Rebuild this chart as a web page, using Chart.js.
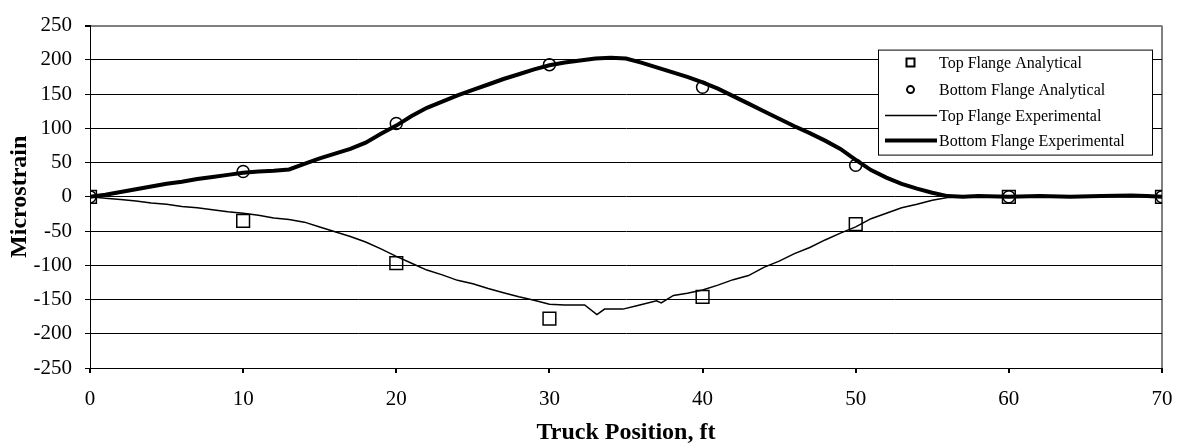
<!DOCTYPE html>
<html>
<head>
<meta charset="utf-8">
<script src="https://cdn.jsdelivr.net/npm/chart.js@4.4.1/dist/chart.umd.min.js"></script>
<style>
  html, body { margin: 0; padding: 0; background: #fff; }
  #wrap { width: 1183px; height: 448px; }
</style>
</head>
<body>
<div id="wrap"><canvas id="strainChart" width="1183" height="448"></canvas></div>
<script>
// analytical results, every 10 ft
const analyticalX = [0, 10, 20, 30, 40, 50, 60, 70];
const topAnalytical = [0, -35, -97, -178, -146, -40, 0, 0];
const bottomAnalytical = [0, 37, 107, 193, 160, 46, 0, 0];

// experimental traces
const bottomExpX = [0, 1, 2, 3, 4, 5, 6, 7, 8, 9, 10, 11, 12, 13, 14, 15, 16, 17, 18, 19,
    20, 21, 22, 23, 24, 25, 26, 27, 28, 29, 30, 31, 32, 33, 34, 35, 36, 37, 38, 39,
    40, 41, 42, 43, 44, 45, 46, 47, 48, 49, 50, 51, 52, 53, 54, 55, 56, 57, 58, 60,
    62, 64, 66, 68, 69, 70];
const bottomExp = [0, 3, 7, 11, 15, 19, 22, 26, 29, 32, 35, 37, 38, 40, 48, 56, 63, 70, 79, 92,
    104, 118, 130, 139, 148, 156, 164, 172, 179, 186, 192, 196, 199, 202, 203, 202, 196, 189, 182, 175,
    167, 158, 147, 136, 125, 114, 103, 93, 82, 70, 54, 39, 28, 19, 12, 6, 1, 0, 1, 0,
    1, 0, 1, 2, 1, 0];

const topExpX = [0, 1, 2, 3, 4, 5, 6, 7, 8, 9, 10, 11, 12, 13, 14, 15, 16, 17, 18, 19,
    20, 21, 22, 23, 24, 25, 26, 27, 28, 29, 30, 31, 32.3, 33.1, 33.6, 34.8, 35.7, 37, 37.3, 38.1,
    39, 40, 41, 42, 43, 44, 45, 46, 47, 48, 49, 50, 51, 52, 53, 54, 55, 56, 57, 70];
const topExp = [0, -2, -4, -6, -9, -11, -14, -16, -19, -22, -24, -27, -31, -33, -37, -44, -51, -58, -66, -76,
    -87, -97, -107, -114, -122, -127, -134, -140, -146, -151, -157, -158, -158, -172, -164, -164, -159, -152, -155, -144,
    -141, -136, -129, -121, -115, -103, -94, -83, -74, -63, -53, -44, -32, -24, -16, -11, -5, -1, 0, 0];

const yTicks = [-250, -200, -150, -100, -50, 0, 50, 100, 150, 200, 250];

function toPoints(xs, ys) {
    return xs.map((x, i) => ({ x: x, y: ys[i] }));
}

const serif = "'Liberation Serif', 'Times New Roman', serif";

// legend drawn as a boxed panel inside the plot, like the original
const boxLegend = {
    id: 'boxLegend',
    afterDraw(chart) {
        const ctx = chart.ctx;
        const area = chart.chartArea;
        const w = 274, h = 105;
        const left = area.right - 10 - w;
        const top = area.top + 24;
        ctx.save();
        ctx.fillStyle = '#fff';
        ctx.fillRect(left, top, w, h);
        ctx.strokeStyle = '#000';
        ctx.lineWidth = 1;
        ctx.strokeRect(left + 0.5, top + 0.5, w, h);

        const rows = [13, 40, 66, 91];
        chart.data.datasets.forEach((ds, i) => {
            const y = top + rows[i];
            ctx.strokeStyle = '#000';
            if (ds.showLine) {
                ctx.lineWidth = ds.borderWidth;
                ctx.beginPath();
                ctx.moveTo(left + 7, y);
                ctx.lineTo(left + 59, y);
                ctx.stroke();
            } else {
                ctx.lineWidth = 2;
                ctx.beginPath();
                if (ds.pointStyle === 'rect') {
                    ctx.rect(left + 28.5, y - 4, 8, 8);
                } else {
                    ctx.arc(left + 32.5, y, 3.5, 0, Math.PI * 2);
                }
                ctx.stroke();
            }
            ctx.fillStyle = '#000';
            ctx.font = '16px ' + serif;
            ctx.textBaseline = 'middle';
            ctx.fillText(ds.label, left + 61, y + 1);
        });
        ctx.restore();
    }
};

const ctx = document.getElementById('strainChart').getContext('2d');
const chart = new Chart(ctx, {
    type: 'scatter',
    data: {
        datasets: [
            {
                label: 'Top Flange Analytical',
                data: toPoints(analyticalX, topAnalytical),
                pointStyle: 'rect',
                pointRadius: 9,
                pointBorderWidth: 1.5,
                pointBorderColor: '#000',
                pointBackgroundColor: 'rgba(0,0,0,0)',
                showLine: false
            },
            {
                label: 'Bottom Flange Analytical',
                data: toPoints(analyticalX, bottomAnalytical),
                pointStyle: 'circle',
                pointRadius: 6,
                pointBorderWidth: 1.5,
                pointBorderColor: '#000',
                pointBackgroundColor: 'rgba(0,0,0,0)',
                showLine: false
            },
            {
                label: 'Top Flange Experimental',
                data: toPoints(topExpX, topExp),
                showLine: true,
                borderColor: '#000',
                borderWidth: 1.5,
                pointRadius: 0,
                tension: 0
            },
            {
                label: 'Bottom Flange Experimental',
                data: toPoints(bottomExpX, bottomExp),
                showLine: true,
                borderColor: '#000',
                borderWidth: 4,
                pointRadius: 0,
                tension: 0
            }
        ]
    },
    options: {
        responsive: false,
        animation: false,
        layout: { padding: { top: 18, right: 21, left: 0, bottom: 0 } },
        plugins: {
            legend: { display: false },
            tooltip: { enabled: false }
        },
        scales: {
            x: {
                type: 'linear',
                min: 0,
                max: 70,
                ticks: {
                    stepSize: 10,
                    padding: 14,
                    color: '#000',
                    font: { family: serif, size: 21 }
                },
                grid: {
                    color: c => c.tick && c.tick.value === 70 ? '#808080' : 'rgba(0,0,0,0)',
                    lineWidth: 2,
                    tickColor: '#000',
                    tickLength: 5
                },
                border: { color: '#000', width: 1 },
                title: {
                    display: true,
                    text: 'Truck Position, ft',
                    color: '#000',
                    font: { family: serif, size: 24, weight: 'bold' },
                    padding: { top: 0, bottom: 1 }
                },
                afterFit: axis => {
                    axis.height = 80;
                    axis.paddingLeft = 0;
                    axis.paddingRight = 0;
                }
            },
            y: {
                min: -250,
                max: 250,
                afterBuildTicks: axis => { axis.ticks = yTicks.map(v => ({ value: v })); },
                ticks: {
                    padding: 13,
                    color: '#000',
                    font: { family: serif, size: 21 }
                },
                grid: {
                    color: c => c.tick && c.tick.value === 250 ? '#808080' : '#000',
                    lineWidth: c => c.tick && c.tick.value === 250 ? 2 : 1,
                    tickColor: '#000',
                    tickLength: 5
                },
                border: { color: '#000', width: 1 },
                title: {
                    display: true,
                    text: 'Microstrain',
                    color: '#000',
                    font: { family: serif, size: 24, weight: 'bold' },
                    padding: { top: 5, bottom: 0 }
                },
                afterFit: axis => { axis.width = 90; }
            }
        }
    },
    plugins: [boxLegend]
});
</script>
</body>
</html>
